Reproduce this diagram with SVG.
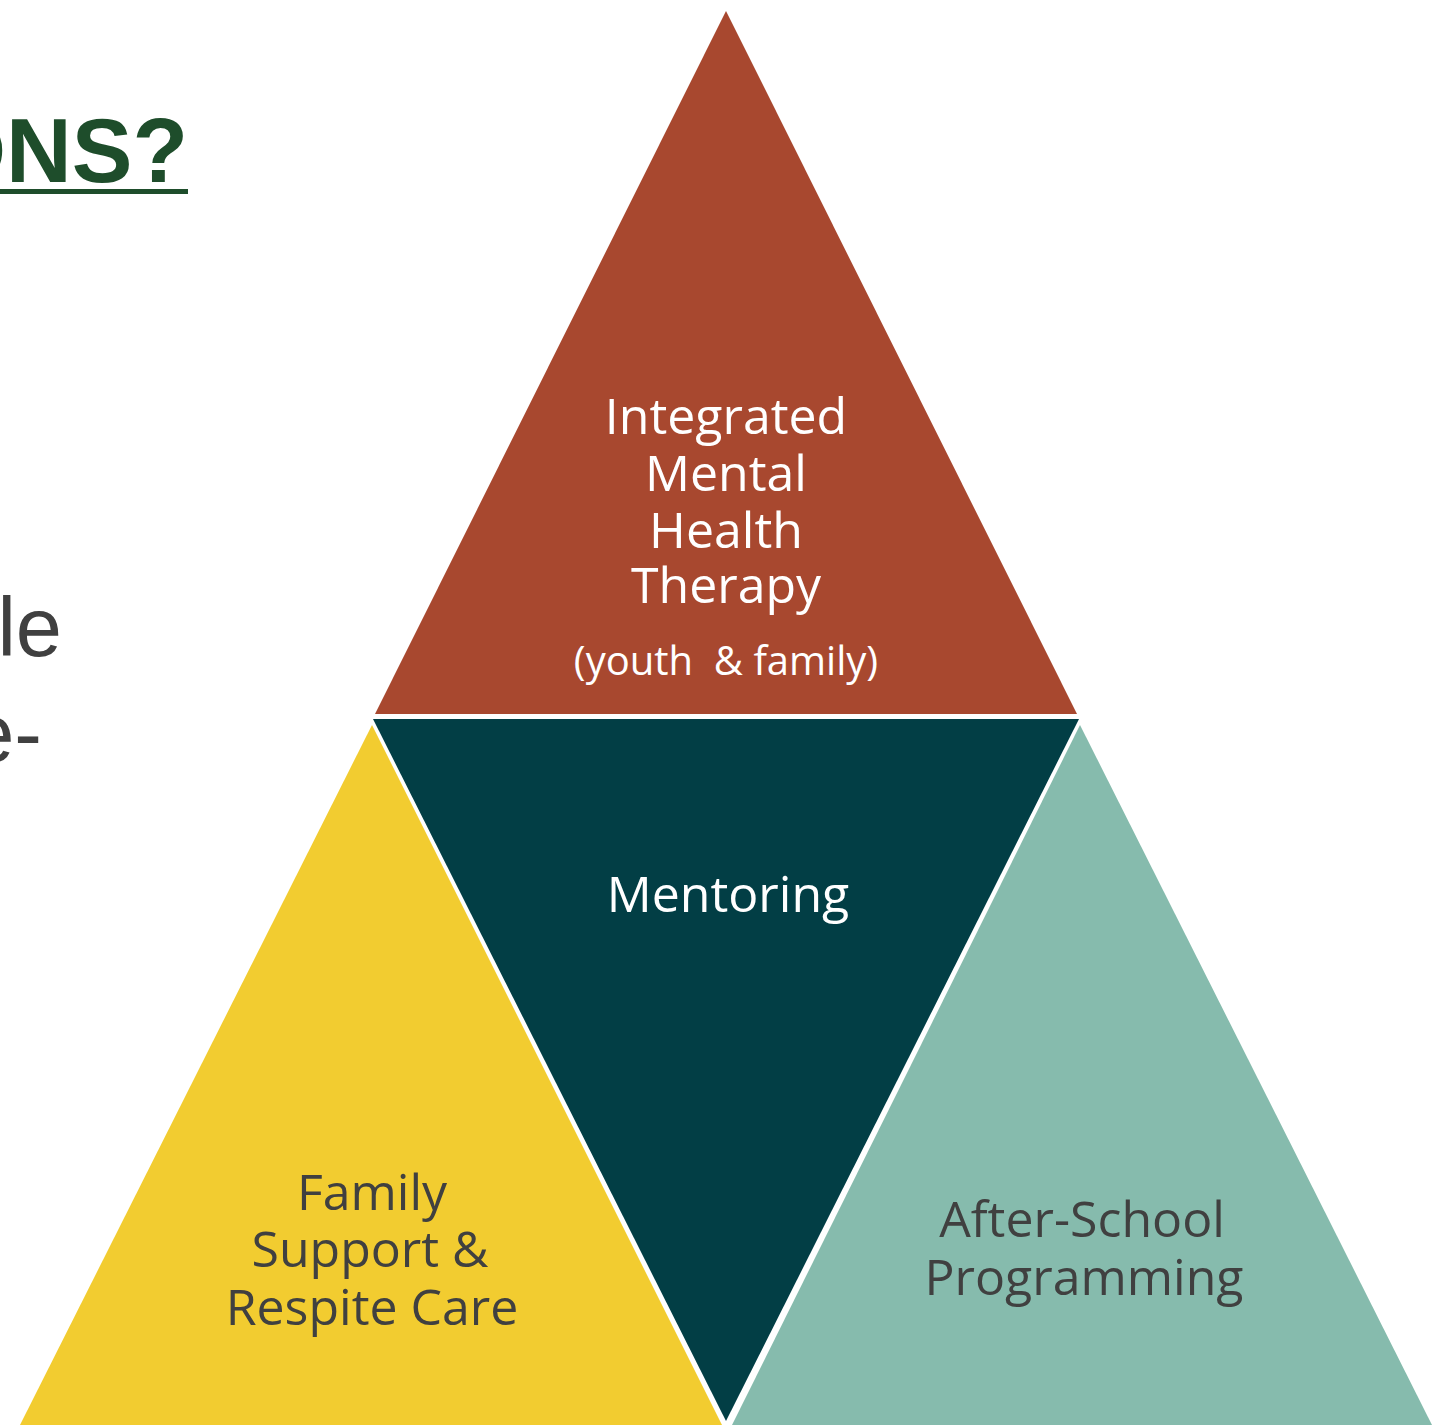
<svg xmlns="http://www.w3.org/2000/svg" width="1446" height="1426" viewBox="0 0 1446 1426">
<style>
.lbl{font-family:"Open Sans","Noto Sans","Liberation Sans",sans-serif;font-size:50px;text-anchor:middle}
.sm{font-size:40px}
.w{fill:#ffffff}
.d{fill:#404040}
.body{font-family:"Liberation Sans",Arial,sans-serif;font-size:83px;fill:#404040;text-anchor:end}
</style>
<rect width="1446" height="1426" fill="#ffffff"/>
<g id="title">
<text x="188" y="182" font-family="'Liberation Sans',Arial,sans-serif" font-weight="bold" font-size="91" fill="#1e4d2b" text-anchor="end">ONS?</text>
<rect x="0" y="189" width="188" height="5" fill="#1e4d2b"/>
</g>
<g id="body-text">
<text class="body" x="62" y="656">le</text>
<text class="body" x="42" y="762">e-</text>
</g>
<g id="connectors"></g>
<g id="node-therapy">
<polygon points="726,11 1077,714 375,714" fill="#a8482f"/>
<text class="lbl w" x="726" y="434">Integrated</text>
<text class="lbl w" x="726" y="491">Mental</text>
<text class="lbl w" x="726" y="548">Health</text>
<text class="lbl w" x="726" y="603">Therapy</text>
<text class="lbl sm w" x="726" y="675" xml:space="preserve">(youth  &amp; family)</text>
</g>
<g id="node-mentoring">
<polygon points="373,719 1079,719 726,1421" fill="#023e45"/>
<text class="lbl w" x="728" y="912">Mentoring</text>
</g>
<g id="node-family">
<polygon points="372,725 20,1425 722,1425" fill="#f2cc30"/>
<text class="lbl d" x="372" y="1210">Family</text>
<text class="lbl d" x="370" y="1267">Support &amp;</text>
<text class="lbl d" x="372" y="1325">Respite Care</text>
</g>
<g id="node-afterschool">
<polygon points="1080,725 732,1425 1432,1425" fill="#86bbad"/>
<text class="lbl d" x="1082" y="1237">After-School</text>
<text class="lbl d" x="1084" y="1295">Programming</text>
</g>
</svg>
